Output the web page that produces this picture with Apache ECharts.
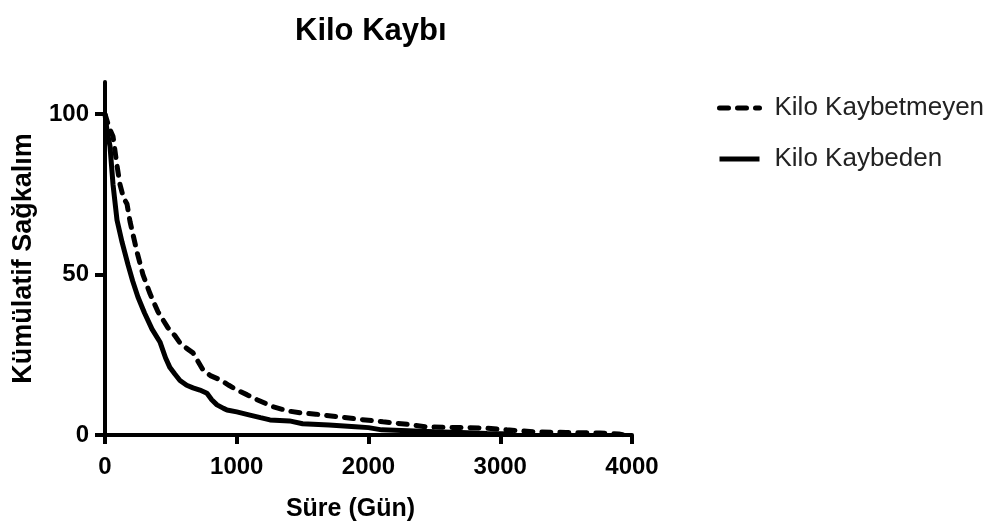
<!DOCTYPE html>
<html>
<head>
<meta charset="utf-8">
<script src="https://cdn.jsdelivr.net/npm/echarts@6/dist/echarts.min.js"></script>
<style>
  html, body { margin: 0; padding: 0; background: #fff; }
  #chart { width: 1008px; height: 528px; }
</style>
</head>
<body>
<div id="chart"></div>
<script>
// Kilo Kaybetmeyen (dashed)
var lostNotDays = [0, 30, 61, 91, 114, 140, 167, 190, 243, 288, 342, 402, 478, 530, 569, 620, 668, 744, 800, 873, 940, 1002, 1080, 1154, 1275, 1389, 1480, 1600, 1784, 1950, 2110, 2300, 2444, 2700, 2870, 3050, 3250, 3500, 3757, 3900, 3950]
var lostNotSurv = [100, 96, 93, 84, 78, 74, 72, 66.5, 57, 50, 44, 38.4, 33.4, 31, 28.7, 27, 25.6, 20.3, 18.5, 17.2, 15.5, 14, 12.5, 11, 8.8, 7.5, 6.9, 6.5, 5.6, 4.8, 4.1, 3.3, 2.5, 2.3, 2.2, 1.6, 1.0, 0.8, 0.6, 0.3, 0]

// Kilo Kaybeden (solid)
var lostDays = [0, 15, 38, 61, 91, 130, 175, 210, 250, 300, 357, 417, 460, 493, 530, 569, 620, 668, 720, 774, 810, 850, 900, 926, 1000, 1100, 1180, 1252, 1400, 1500, 1700, 1900, 2000, 2100, 2300, 2500, 2700, 2900, 3100]
var lostSurv = [100, 95, 90, 78, 67, 60, 53, 48, 43, 38, 33, 29, 24, 21, 19, 17, 15.5, 14.7, 14, 13, 11, 9.4, 8.3, 7.8, 7.2, 6.2, 5.4, 4.7, 4.4, 3.5, 3.1, 2.6, 2.3, 1.6, 1.3, 1.0, 0.8, 0.5, 0.3]

var xTicks = [0, 1000, 2000, 3000, 4000]
var yTicks = [0, 50, 100]

function pairs(xs, ys) {
  var out = []
  for (var i = 0; i < xs.length; i++) out.push([xs[i], ys[i]])
  return out
}

var font = "'Liberation Sans', Arial, sans-serif"
var chart = echarts.init(document.getElementById('chart'))

var option = {
  animation: false,
  backgroundColor: '#fff',
  title: {
    text: 'Kilo Kaybı',
    left: 290,
    top: 11,
    textStyle: { fontFamily: font, fontWeight: 'bold', fontSize: 31, color: '#000' }
  },
  legend: {
    orient: 'vertical',
    left: 712,
    top: 90,
    itemWidth: 40,
    itemHeight: 14,
    itemGap: 25,
    itemStyle: { opacity: 0 },
    lineStyle: { width: 5 },
    textStyle: { fontFamily: font, fontSize: 26, color: '#222', padding: [0, 0, 0, 10] },
    data: ['Kilo Kaybetmeyen', 'Kilo Kaybeden']
  },
  grid: { left: 105, right: 376, top: 82, bottom: 93 },
  xAxis: {
    type: 'value',
    min: 0,
    max: 4000,
    interval: 1000,
    name: 'Süre (Gün)',
    nameLocation: 'middle',
    nameGap: 62,
    nameTextStyle: { fontFamily: font, fontWeight: 'bold', fontSize: 25, color: '#000', padding: [0, 36, 0, 0] },
    axisLine: { lineStyle: { color: '#000', width: 4 } },
    axisTick: { length: 9, lineStyle: { color: '#000', width: 4 } },
    axisLabel: {
      margin: 20,
      fontFamily: font, fontWeight: 'bold', fontSize: 24, color: '#000',
      customValues: xTicks,
      formatter: function (v) { return String(v) }
    },
    splitLine: { show: false }
  },
  yAxis: {
    type: 'value',
    min: 0,
    max: 110,
    name: 'Kümülatif Sağkalım',
    nameLocation: 'middle',
    nameGap: 68,
    nameTextStyle: { fontFamily: font, fontWeight: 'bold', fontSize: 27, color: '#000' },
    axisLine: { show: true, lineStyle: { color: '#000', width: 4 } },
    axisTick: { show: true, length: 10, lineStyle: { color: '#000', width: 4 }, customValues: yTicks },
    axisLabel: {
      margin: 16,
      fontFamily: font, fontWeight: 'bold', fontSize: 24, color: '#000',
      customValues: yTicks,
      formatter: function (v) { return String(v) }
    },
    splitLine: { show: false }
  },
  series: [
    {
      name: 'Kilo Kaybetmeyen',
      type: 'line',
      symbol: 'none',
      data: pairs(lostNotDays, lostNotSurv),
      lineStyle: { color: '#000', width: 5, type: [9, 9], cap: 'round' },
      itemStyle: { color: '#000' },
      z: 3
    },
    {
      name: 'Kilo Kaybeden',
      type: 'line',
      symbol: 'none',
      data: pairs(lostDays, lostSurv),
      lineStyle: { color: '#000', width: 5 },
      itemStyle: { color: '#000' },
      z: 2
    }
  ]
}

chart.setOption(option)
</script>
</body>
</html>
